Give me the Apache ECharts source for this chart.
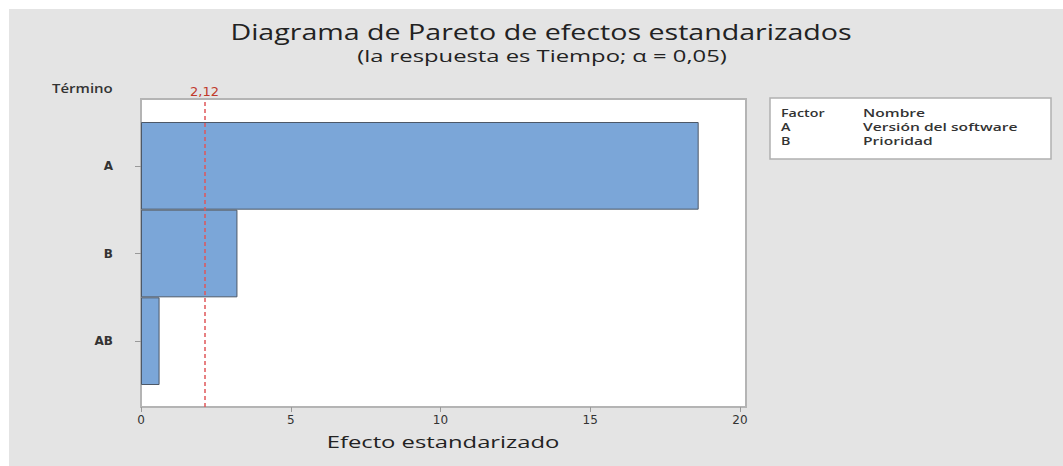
<!DOCTYPE html>
<html><head><meta charset="utf-8">
<script src="https://cdn.jsdelivr.net/npm/echarts@6/dist/echarts.min.js"></script>
<style>html,body{margin:0;padding:0;background:#fff}#c{width:1063px;height:466px}</style>
</head><body><div id="c"></div>
<script>
const titleText = 'Diagrama de Pareto de efectos estandarizados';
const subtitleText = '(la respuesta es Tiempo; α = 0,05)';
const terms = ['A', 'B', 'AB'];
const effects = [18.62, 3.22, 0.62];
const threshold = 2.12;
const xTicks = [0, 5, 10, 15, 20];
const xMax = 20.2;
const xName = 'Efecto estandarizado';
const yName = 'Término';
const legendHeader = ['Factor', 'Nombre'];
const legendFactors = ['A', 'B'];
const legendNames = ['Versión del software', 'Prioridad'];

const FONT = '"Open Sans", sans-serif';
const WFONT = '"DejaVu Sans", sans-serif';
const chart = echarts.init(document.getElementById('c'), null, {renderer: 'svg'});

const legendTexts = [];
const rows = [legendHeader].concat(legendFactors.map((f, i) => [f, legendNames[i]]));
rows.forEach((r, i) => {
  legendTexts.push({type: 'text', x: 781, y: 107 + i * 14, scaleX: 1.3, style: {text: r[0], font: '600 11px ' + FONT, fill: '#333'}});
  legendTexts.push({type: 'text', x: 863, y: 107 + i * 14, scaleX: 1.42, style: {text: r[1], font: '600 11px ' + FONT, fill: '#333'}});
});

chart.setOption({
  backgroundColor: '#e4e4e4',
  animation: false,
  graphic: [
    {type: 'rect', shape: {x: 0, y: 0, width: 1063, height: 9}, style: {fill: '#fff'}},
    {type: 'rect', shape: {x: 0, y: 0, width: 9, height: 466}, style: {fill: '#fff'}},
    {type: 'text', x: 541, y: 20, scaleX: 1.3, style: {text: titleText, font: '22px ' + FONT, fill: '#222', textAlign: 'center'}},
    {type: 'text', x: 542, y: 47, scaleX: 1.4, style: {text: subtitleText, font: '17px ' + FONT, fill: '#222', textAlign: 'center'}},
    {type: 'text', x: 52, y: 82, scaleX: 1.25, style: {text: yName, font: '600 12px ' + FONT, fill: '#333'}},
    {type: 'rect', shape: {x: 770, y: 98, width: 281, height: 61}, style: {fill: '#fff', stroke: '#b0b0b0', lineWidth: 1.5}},
    {type: 'text', x: 443, y: 433, scaleX: 1.4, style: {text: xName, font: '17px ' + FONT, fill: '#222', textAlign: 'center'}},
    ...legendTexts
  ],
  grid: [
    {left: 141, top: 99, width: 605, height: 308, show: true, backgroundColor: '#fff', borderColor: '#b4b4b4', borderWidth: 2, containLabel: false},
    {left: 141, top: 122, width: 605, height: 263, containLabel: false}
  ],
  xAxis: [
    {gridIndex: 0, type: 'value', min: 0, max: xMax, interval: 5,
     axisLine: {show: false}, splitLine: {show: false},
     axisTick: {show: true, length: 5, customValues: xTicks, lineStyle: {color: '#999'}},
     axisLabel: {customValues: xTicks, color: '#333', fontSize: 12, fontFamily: WFONT, margin: 7}},
    {gridIndex: 1, type: 'value', min: 0, max: xMax, show: false}
  ],
  yAxis: [
    {gridIndex: 0, type: 'value', min: 0, max: 1, show: false},
    {gridIndex: 1, type: 'category', data: terms, inverse: true,
     axisLine: {show: false},
     axisTick: {show: true, alignWithLabel: true, length: 6, lineStyle: {color: '#999'}},
     axisLabel: {color: '#333', fontSize: 12, fontFamily: WFONT, fontWeight: 'bold', margin: 28}}
  ],
  series: [
    {type: 'bar', xAxisIndex: 1, yAxisIndex: 1, data: effects, barCategoryGap: '0%',
     itemStyle: {color: '#7ba6d8', borderColor: '#4d5867', borderWidth: 1}, z: 3},
    {type: 'scatter', xAxisIndex: 0, yAxisIndex: 0, data: [], z: 5,
     markLine: {silent: true, symbol: 'none',
       lineStyle: {color: '#e0575a', type: [4, 3], width: 1.5},
       label: {position: 'end', formatter: () => String(threshold).replace('.', ','), color: '#c0392b', fontSize: 13, fontFamily: WFONT, distance: 1},
       data: [{xAxis: threshold}]}}
  ]
});
</script></body></html>
